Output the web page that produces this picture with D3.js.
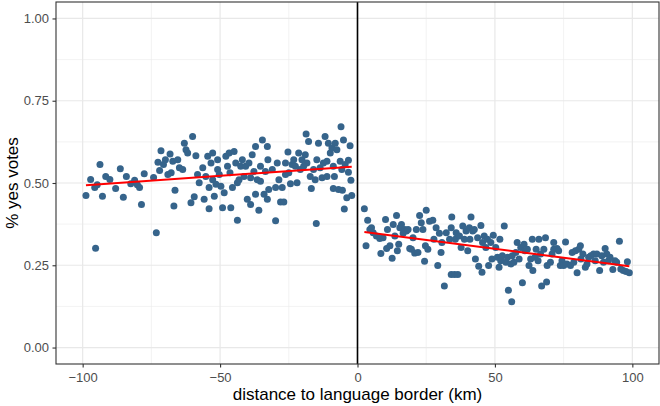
<!DOCTYPE html>
<html>
<head>
<meta charset="utf-8">
<script src="https://cdn.jsdelivr.net/npm/d3@7"></script>
<style>
body { margin: 0; background: #fff; }
text { font-family: "Liberation Sans", Arial, sans-serif; }
</style>
</head>
<body>
<svg id="chart" width="660" height="406"></svg>
<script>
// municipalities west of the border (negative distance)
var leftDist = [-98.8,-97.1,-95.3,-95.6,-94.7,-93.7,-92.8,-91.6,-90.1,-88.0,-86.3,-85.2,-84.1,-82.5,-81.1,-80.1,-79.3,-78.6,-77.6,-74.2,-73.2,-72.6,-72.0,-71.5,-70.6,-69.9,-69.0,-68.2,-67.8,-67.2,-66.4,-66.8,
  -65.4,-64.8,-63.6,-63.0,-62.4,-61.8,-60.0,-60.6,-59.4,-58.8,-58.2,-57.6,-56.3,-55.8,-55.2,-54.5,-54.0,-54.0,-53.3,-52.7,-52.7,-52.1,-51.5,-50.9,-50.9,-50.3,-49.7,-49.1,-48.5,-47.9,-47.3,-46.7,-46.4,-46.1,-45.5,-44.9,-44.3,-43.7,-43.7,-43.1,-42.5,-41.9,-41.3,-40.7,-40.1,-39.5,-38.9,-38.9,-38.3,-37.7,-37.1,-37.1,-36.5,-35.9,-35.3,-35.3,-34.6,-34.0,-33.5,-32.8,-32.6,-32.3,-32.8,
  -29.8,-31.0,-29.2,-28.6,-29.8,-28.0,-26.8,-26.2,-25.3,-25.0,-24.4,-23.8,-23.2,-22.0,-21.4,-20.8,-20.2,-19.0,-18.7,-18.4,-17.8,-17.2,-16.8,-16.0,-15.4,-15.0,-14.8,-14.2,-13.6,-12.9,-11.8,-11.1,-11.1,-10.6,-9.9,-9.3,-8.8,-8.4,-8.1,-7.5,-6.9,-6.3,-6.0,-5.5,-5.1,-4.8,-4.5,-3.9,-3.3,-2.7,-2.4,-2.1,-3.3,
  -26.2,-22.6,-19.6,-12.4,-8.8,-5.7,-27.4];
var leftShare = [0.462,0.511,0.302,0.486,0.495,0.556,0.460,0.520,0.511,0.483,0.543,0.457,0.520,0.498,0.508,0.495,0.486,0.435,0.528,0.517,0.349,0.563,0.538,0.598,0.556,0.571,0.526,0.588,0.531,0.566,0.478,0.430,
  0.571,0.546,0.541,0.621,0.601,0.591,0.641,0.440,0.458,0.583,0.526,0.501,0.546,0.451,0.520,0.581,0.486,0.422,0.561,0.591,0.510,0.460,0.496,0.571,0.541,0.526,0.490,0.425,0.470,0.581,0.551,0.591,0.531,0.425,0.486,0.596,0.561,0.387,0.501,0.510,0.551,0.571,0.520,0.551,0.451,0.561,0.516,0.435,0.586,0.535,0.466,0.611,0.510,0.417,0.551,0.505,0.631,0.466,0.535,0.611,0.571,0.480,0.451,
  0.385,0.541,0.561,0.510,0.486,0.442,0.442,0.561,0.594,0.531,0.498,0.556,0.571,0.501,0.591,0.541,0.571,0.586,0.649,0.561,0.626,0.520,0.483,0.541,0.510,0.377,0.571,0.621,0.546,0.516,0.641,0.566,0.520,0.621,0.591,0.606,0.483,0.520,0.621,0.601,0.480,0.566,0.671,0.478,0.631,0.421,0.556,0.455,0.533,0.613,0.508,0.462,0.569,
  0.526,0.551,0.551,0.561,0.551,0.541,0.486];

// municipalities east of the border (positive distance)
var rightDist = [2.5,3.7,3.1,4.5,5.1,5.7,6.9,8.1,8.5,9.3,10.2,10.6,10.9,11.8,12.6,13.0,13.6,14.2,14.5,15.0,15.4,16.0,16.6,17.2,17.8,18.4,19.0,19.6,20.2,20.8,21.4,22.0,22.6,23.2,23.8,24.4,24.7,25.0,25.6,26.2,27.4,27.8,28.6,29.2,29.8,30.4,30.7,31.6,32.3,33.5,34.1,34.3,34.1,
  35.3,36.5,35.6,35.9,37.1,37.7,38.3,38.9,39.5,40.1,40.7,40.9,41.3,41.9,42.5,42.9,43.7,44.1,44.9,45.3,45.5,46.1,46.7,47.3,47.7,48.5,48.9,49.4,50.3,50.9,51.5,51.8,52.1,52.7,53.4,54.0,54.6,54.9,55.8,56.1,56.3,56.9,57.6,58.1,58.8,59.4,60.0,60.6,60.9,61.8,62.4,63.0,63.6,63.8,64.6,65.0,65.7,66.0,66.6,67.0,67.8,68.4,68.8,69.0,
  70.2,70.8,71.4,72.6,73.2,73.8,74.4,75.0,75.7,76.2,77.5,78.1,78.7,79.3,79.9,80.5,81.1,81.3,82.0,82.9,83.5,84.1,84.9,85.9,86.5,87.1,88.1,88.9,89.5,90.1,90.7,91.3,91.9,92.9,93.7,94.3,95.3,95.8,96.7,97.7,98.2,98.9,71.4];
var rightShare = [0.422,0.387,0.309,0.359,0.364,0.349,0.339,0.331,0.286,0.334,0.389,0.301,0.359,0.309,0.271,0.374,0.339,0.401,0.294,0.314,0.364,0.374,0.347,0.359,0.354,0.359,0.301,0.299,0.334,0.287,0.359,0.289,0.401,0.379,0.359,0.262,0.309,0.417,0.299,0.384,0.387,0.329,0.364,0.249,0.347,0.289,0.319,0.187,0.349,0.329,0.222,0.397,0.364,
  0.222,0.222,0.329,0.349,0.339,0.304,0.369,0.329,0.354,0.294,0.364,0.329,0.397,0.354,0.359,0.269,0.334,0.247,0.371,0.229,0.319,0.339,0.304,0.329,0.249,0.319,0.269,0.341,0.304,0.274,0.244,0.329,0.264,0.279,0.369,0.259,0.274,0.174,0.254,0.139,0.279,0.259,0.289,0.319,0.269,0.304,0.197,0.314,0.294,0.299,0.249,0.269,0.329,0.234,0.274,0.299,0.264,0.329,0.284,0.187,0.299,0.334,0.199,0.249,
  0.259,0.284,0.299,0.301,0.294,0.249,0.264,0.249,0.321,0.254,0.249,0.289,0.259,0.294,0.227,0.299,0.309,0.269,0.284,0.244,0.254,0.274,0.279,0.284,0.264,0.284,0.234,0.279,0.259,0.301,0.284,0.264,0.274,0.237,0.264,0.259,0.323,0.239,0.234,0.231,0.261,0.227,0.319];

var xTicks = [-100, -50, 0, 50, 100];
var yTicks = [0, 0.25, 0.5, 0.75, 1];

var svg = d3.select("#chart"),
    margin = {top: 2, right: 1, bottom: 42, left: 56},
    width = +svg.attr("width") - margin.left - margin.right,
    height = +svg.attr("height") - margin.top - margin.bottom;

var g = svg.append("g")
    .attr("transform", "translate(" + margin.left + "," + margin.top + ")");

var x = d3.scaleLinear().domain([-109.7, 109.7]).range([0, width]);
var y = d3.scaleLinear().domain([-0.05, 1.05]).range([height, 0]);

// minor grid
var xMinor = [-75, -25, 25, 75], yMinor = [0.125, 0.375, 0.625, 0.875];
g.selectAll(".xminor").data(xMinor).enter().append("line")
    .attr("x1", function(d) { return x(d); }).attr("x2", function(d) { return x(d); })
    .attr("y1", 0).attr("y2", height)
    .attr("stroke", "#ebebeb").attr("stroke-width", 0.6);
g.selectAll(".yminor").data(yMinor).enter().append("line")
    .attr("y1", function(d) { return y(d); }).attr("y2", function(d) { return y(d); })
    .attr("x1", 0).attr("x2", width)
    .attr("stroke", "#ebebeb").attr("stroke-width", 0.6);

// major grid
g.selectAll(".xmajor").data(xTicks).enter().append("line")
    .attr("x1", function(d) { return x(d); }).attr("x2", function(d) { return x(d); })
    .attr("y1", 0).attr("y2", height)
    .attr("stroke", "#e8e8e8").attr("stroke-width", 1.2);
g.selectAll(".ymajor").data(yTicks).enter().append("line")
    .attr("y1", function(d) { return y(d); }).attr("y2", function(d) { return y(d); })
    .attr("x1", 0).attr("x2", width)
    .attr("stroke", "#e8e8e8").attr("stroke-width", 1.2);

// points
var left = leftDist.map(function(d, i) { return {dist: d, share: leftShare[i]}; });
var right = rightDist.map(function(d, i) { return {dist: d, share: rightShare[i]}; });

g.selectAll(".dot")
    .data(left.concat(right))
    .enter().append("circle")
    .attr("class", "dot")
    .attr("cx", function(d) { return x(d.dist); })
    .attr("cy", function(d) { return y(d.share); })
    .attr("r", 3.5)
    .attr("fill", "#36648B");

// linear fit on each side of the border
function fit(data) {
    var mx = d3.mean(data, function(d) { return d.dist; }),
        my = d3.mean(data, function(d) { return d.share; });
    var sxy = d3.sum(data, function(d) { return (d.dist - mx) * (d.share - my); }),
        sxx = d3.sum(data, function(d) { return (d.dist - mx) * (d.dist - mx); });
    var b = sxy / sxx, a = my - b * mx;
    var ext = d3.extent(data, function(d) { return d.dist; });
    return ext.map(function(v) { return {dist: v, share: a + b * v}; });
}

var line = d3.line()
    .x(function(d) { return x(d.dist); })
    .y(function(d) { return y(d.share); });

[left, right].forEach(function(side) {
    g.append("path")
        .datum(fit(side))
        .attr("d", line)
        .attr("fill", "none")
        .attr("stroke", "red")
        .attr("stroke-width", 2);
});

// border line
g.append("line")
    .attr("x1", x(0)).attr("x2", x(0))
    .attr("y1", 0).attr("y2", height)
    .attr("stroke", "black").attr("stroke-width", 1.6);

// panel border
g.append("rect")
    .attr("width", width).attr("height", height)
    .attr("fill", "none").attr("stroke", "#333333").attr("stroke-width", 1.1);

// axes
var xAxisCall = d3.axisBottom(x).tickValues(xTicks).tickSize(3.5).tickPadding(5.5)
    .tickFormat(function(d) { return d < 0 ? "\u2212" + Math.abs(d) : d; });
var yAxisCall = d3.axisLeft(y).tickValues(yTicks).tickSize(3.5).tickPadding(3.5)
    .tickFormat(d3.format(".2f"));

var xAxis = g.append("g")
    .attr("transform", "translate(0," + height + ")")
    .call(xAxisCall);
var yAxis = g.append("g").call(yAxisCall);

[xAxis, yAxis].forEach(function(ax) {
    ax.select(".domain").remove();
    ax.selectAll(".tick line").attr("stroke", "#333333").attr("stroke-width", 1.1);
    ax.selectAll(".tick text")
        .attr("fill", "#4d4d4d")
        .style("font-size", "13px")
        .style("font-family", "'Liberation Sans', Arial, sans-serif");
});

// axis titles
svg.append("text")
    .attr("x", margin.left + width / 2)
    .attr("y", 400)
    .attr("text-anchor", "middle")
    .style("font-size", "17px")
    .attr("fill", "black")
    .text("distance to language border (km)");

svg.append("text")
    .attr("transform", "translate(18," + (margin.top + height / 2) + ") rotate(-90)")
    .attr("text-anchor", "middle")
    .style("font-size", "17px")
    .attr("fill", "black")
    .text("% yes votes");
</script>
</body>
</html>
